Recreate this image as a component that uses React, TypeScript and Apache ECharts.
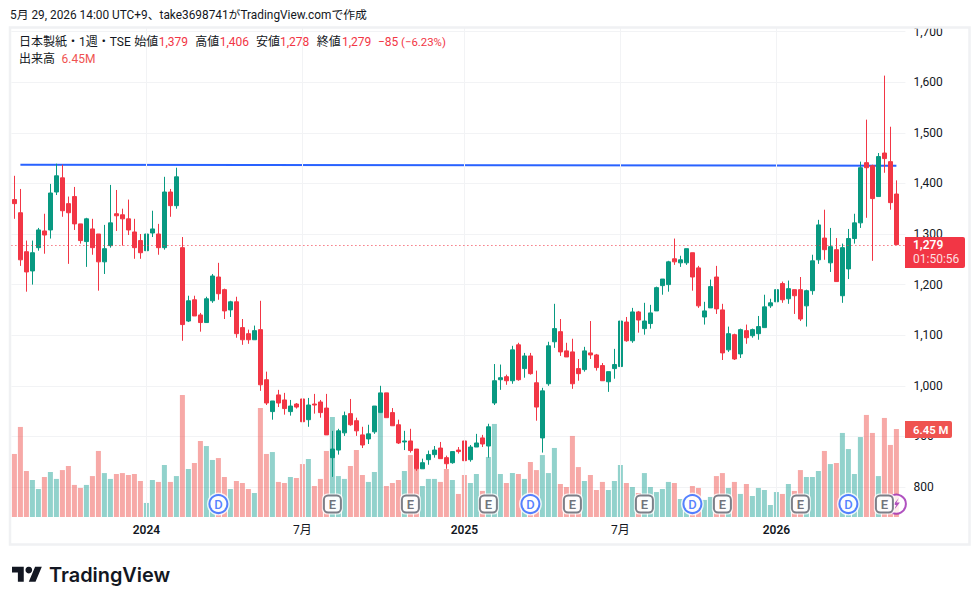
import React, { useEffect, useRef } from "react";
import * as echarts from "echarts";

const UP = "#089981";
const DOWN = "#F23645";
const VOL_DOWN = "#EF5350";
const BLUE = "#2962FF";
const GRID = "#F2F3F5";
const INK = "#131722";
const FONT = "Roboto, 'Noto Sans CJK JP', sans-serif";

const opens = [
  1368, 1342, 1265, 1227, 1273, 1306, 1308, 1383, 1411, 1360, 1374, 1320, 1285, 1310, 1300, 1245, 1277, 1340, 1338, 1330,
  1304, 1287, 1267, 1302, 1300, 1273, 1383, 1356, 1273, 1128, 1170, 1140, 1125, 1168, 1215, 1190, 1150, 1166, 1115, 1103,
  1091, 1111, 1012, 949, 982, 972, 949, 964, 974, 933, 964, 968, 956, 858, 873, 907, 945, 931, 903, 895,
  909, 947, 986, 947, 923, 889, 891, 875, 836, 854, 864, 877, 858, 848, 873, 891, 854, 879, 897, 881,
  966, 1012, 1018, 1010, 1081, 1034, 1059, 1006, 897, 1004, 1087, 1107, 1069, 1067, 1034, 1032, 1065, 1061, 1040, 1008,
  1034, 1038, 1126, 1089, 1146, 1113, 1123, 1148, 1198, 1200, 1251, 1243, 1243, 1263, 1233, 1136, 1154, 1215, 1150, 1071,
  1101, 1063, 1109, 1099, 1103, 1115, 1158, 1166, 1202, 1172, 1190, 1190, 1158, 1188, 1249, 1292, 1243, 1269, 1178, 1231,
  1291, 1322, 1441, 1435, 1374, 1460, 1443, 1379,
];
const closes = [
  1360, 1249, 1225, 1263, 1308, 1298, 1381, 1415, 1346, 1342, 1320, 1287, 1330, 1273, 1245, 1271, 1322, 1336, 1330, 1308,
  1273, 1263, 1300, 1310, 1273, 1383, 1356, 1413, 1121, 1168, 1138, 1125, 1172, 1217, 1182, 1148, 1166, 1103, 1091, 1091,
  1109, 1002, 966, 970, 966, 955, 960, 958, 929, 962, 962, 947, 903, 875, 911, 941, 923, 911, 883, 905,
  960, 986, 937, 921, 887, 891, 872, 836, 848, 864, 873, 856, 846, 870, 870, 852, 879, 887, 885, 919,
  1010, 1016, 1010, 1071, 1012, 1059, 1024, 958, 990, 1079, 1113, 1067, 1057, 1004, 1024, 1069, 1061, 1036, 1010, 1028,
  1042, 1128, 1089, 1146, 1130, 1128, 1144, 1194, 1211, 1245, 1245, 1249, 1271, 1215, 1158, 1148, 1196, 1152, 1065, 1103,
  1053, 1111, 1095, 1111, 1117, 1156, 1164, 1190, 1170, 1192, 1178, 1132, 1188, 1247, 1318, 1269, 1275, 1206, 1273, 1291,
  1322, 1431, 1431, 1370, 1453, 1449, 1362, 1279,
];
const lows = [
  1330, 1237, 1186, 1200, 1267, 1261, 1291, 1377, 1334, 1241, 1308, 1281, 1235, 1259, 1188, 1221, 1273, 1306, 1277, 1298,
  1251, 1251, 1253, 1294, 1259, 1269, 1334, 1350, 1089, 1126, 1138, 1107, 1125, 1164, 1170, 1132, 1136, 1095, 1081, 1083,
  1091, 990, 962, 933, 958, 943, 941, 955, 927, 919, 945, 937, 903, 820, 864, 901, 921, 901, 877, 885,
  905, 947, 937, 921, 885, 873, 868, 832, 836, 844, 858, 856, 836, 846, 866, 850, 850, 879, 879, 858,
  962, 992, 1002, 1004, 1010, 1016, 1022, 931, 868, 1000, 1075, 1059, 1057, 994, 1010, 1028, 1053, 1030, 1010, 988,
  1014, 1038, 1087, 1085, 1105, 1101, 1113, 1148, 1180, 1186, 1239, 1235, 1239, 1188, 1154, 1121, 1154, 1142, 1051, 1067,
  1051, 1055, 1083, 1095, 1091, 1115, 1154, 1166, 1164, 1162, 1142, 1128, 1117, 1180, 1241, 1249, 1225, 1206, 1164, 1211,
  1281, 1312, 1332, 1247, 1374, 1421, 1348, 1278,
];
const highs = [
  1415, 1389, 1287, 1287, 1312, 1340, 1399, 1439, 1437, 1374, 1393, 1320, 1332, 1330, 1300, 1318, 1397, 1387, 1350, 1368,
  1330, 1300, 1304, 1346, 1320, 1413, 1389, 1431, 1294, 1178, 1178, 1144, 1176, 1221, 1243, 1192, 1168, 1176, 1132, 1111,
  1119, 1168, 1028, 970, 992, 986, 972, 966, 976, 976, 984, 972, 984, 911, 915, 949, 974, 937, 919, 923,
  960, 1000, 986, 956, 933, 911, 915, 875, 856, 872, 881, 889, 862, 870, 879, 897, 883, 905, 903, 925,
  1043, 1042, 1022, 1079, 1085, 1065, 1065, 1030, 996, 1087, 1162, 1132, 1085, 1093, 1053, 1077, 1128, 1063, 1045, 1028,
  1073, 1144, 1136, 1154, 1148, 1164, 1160, 1196, 1211, 1247, 1291, 1257, 1271, 1263, 1237, 1166, 1210, 1237, 1162, 1117,
  1103, 1113, 1121, 1113, 1138, 1180, 1172, 1206, 1206, 1208, 1190, 1215, 1190, 1259, 1328, 1348, 1312, 1292, 1281, 1310,
  1340, 1443, 1526, 1437, 1460, 1613, 1512, 1406,
];
const volumesM = [
  4.62, 6.6, 3.37, 2.71, 2.05, 2.93, 3.3, 2.79, 3.44, 3.74, 2.35, 2.13, 2.35, 3.0, 4.84, 3.22, 2.79, 3.15, 3.22, 3.08,
  3.15, 2.64, 1.03, 2.71, 2.57, 3.81, 2.57, 3.0, 8.94, 3.52, 3.96, 5.57, 5.2, 4.18, 4.32, 2.93, 2.05, 2.64, 2.49, 2.05,
  1.76, 7.99, 4.62, 4.76, 2.57, 2.49, 2.93, 2.86, 3.88, 4.25, 2.27, 2.79, 4.84, 7.33, 3.0, 2.79, 3.74, 4.91, 3.08, 2.57,
  3.3, 7.62, 2.27, 2.49, 2.71, 3.37, 4.54, 3.52, 2.27, 2.79, 2.79, 2.57, 3.52, 2.71, 1.69, 3.08, 2.49, 3.15, 1.91, 4.4,
  6.82, 3.15, 2.49, 3.22, 3.15, 2.79, 4.03, 3.44, 4.54, 3.22, 5.06, 2.42, 2.2, 5.94, 3.66, 2.64, 3.08, 1.98, 2.57, 1.98,
  2.64, 3.81, 2.49, 2.2, 1.76, 3.22, 2.2, 1.83, 2.05, 2.57, 2.49, 1.32, 1.32, 2.27, 2.13, 1.25, 1.47, 3.0, 3.22, 2.13,
  2.57, 1.69, 2.42, 1.54, 2.13, 1.98, 0.88, 1.83, 1.69, 2.42, 1.91, 3.44, 2.93, 2.93, 3.37, 4.84, 3.88, 3.96, 6.16, 4.98,
  3.15, 5.86, 7.48, 6.16, 3.0, 7.26, 5.28, 6.45,
];

const priceTicks = [800, 900, 1000, 1100, 1200, 1300, 1400, 1500, 1600, 1700];
const timeTickIndex = [22, 48, 75, 101, 127];
const timeTickLabels = ["2024", "7月", "2025", "7月", "2026"];
const dividendEvents = [34, 86, 113, 139];
const earningsEvents = [53, 66, 79, 93, 105, 118, 131, 145];
const splitEvents = [147];
const EVENT_LEVEL = 0.95;
const trendLine = [
  { index: 1, price: 1437 },
  { index: 147, price: 1435 },
];
const dottedLineLevel = 1277.7;

const categories = opens.map((_, i) => String(i)).concat([""]);

const headerPieces: [string, number, string, number][] = [
  ["日本製紙・1週・TSE", 19, INK, 12],
  ["始値", 134.3, INK, 12],
  ["1,379", 158.7, DOWN, 12],
  ["高値", 195.3, INK, 12],
  ["1,406", 219.7, DOWN, 12],
  ["安値", 256, INK, 12],
  ["1,278", 280, DOWN, 12],
  ["終値", 316.7, INK, 12],
  ["1,279", 342, DOWN, 12],
  ["−85", 378, DOWN, 12],
  ["(−6.23%)", 401, DOWN, 11.4],
];

echarts.graphic.registerShape(
  "tvLogo",
  echarts.graphic.extendPath(
    "M14 22H7V11H0V4h14v18ZM28 22h-8l7.5-18h8L28 22Z",
    {}
  )
);

const LIGHTNING = "path://M14 0 L2 14 L9 14 L4 24 L16 9 L9 9 Z";

function buildOption() {
  const txt = (text: string, x: number, y: number, fill: string, extra: any = {}) => ({
    type: "text",
    x,
    y,
    z: 100,
    silent: true,
    style: { text, x: 0, y: 0, fill, font: `12px ${FONT}`, verticalAlign: "middle", ...extra },
  });
  const eventSeries = (name: string, z: number, points: number[], rest: any) => ({
    type: "scatter",
    name,
    xAxisIndex: 1,
    yAxisIndex: 1,
    z,
    data: points.map((i) => [i, EVENT_LEVEL]),
    ...rest,
  });
  return {
    animation: false,
    backgroundColor: "#ffffff",
    grid: [
      { left: 11.4, width: 894, top: 31.6, height: 455.4 },
      { left: 11.4, width: 894, top: 28, height: 489 },
    ],
    xAxis: [
      { type: "category", gridIndex: 0, data: categories, show: false, boundaryGap: true },
      {
        type: "category",
        gridIndex: 1,
        data: categories,
        boundaryGap: true,
        axisLine: { show: false },
        axisTick: { show: false },
        splitLine: { show: false },
        axisLabel: {
          show: true,
          interval: (i: number) => timeTickIndex.includes(i),
          hideOverlap: false,
          margin: 7,
          fontFamily: FONT,
          fontSize: 12,
          color: INK,
          formatter: (_: string, i: number) => {
            const k = timeTickIndex.indexOf(i);
            if (k < 0) return "";
            const t = timeTickLabels[k];
            return /月/.test(t) ? t : `{y|${t}}`;
          },
          rich: { y: { fontWeight: 600, fontFamily: FONT, fontSize: 12, color: INK } },
        },
      },
    ],
    yAxis: [
      {
        type: "value",
        gridIndex: 0,
        position: "right",
        min: priceTicks[0],
        max: priceTicks[priceTicks.length - 1],
        interval: 100,
        axisLine: { show: false },
        axisTick: { show: false },
        splitLine: { show: true, lineStyle: { color: GRID, width: 1 } },
        axisLabel: {
          margin: 8,
          color: INK,
          fontFamily: FONT,
          fontSize: 12,
          formatter: (v: number) => v.toLocaleString("en-US"),
        },
      },
      { type: "value", gridIndex: 1, position: "left", min: 0, max: 35.84, show: false },
    ],
    series: [
      {
        type: "bar",
        name: "出来高",
        xAxisIndex: 1,
        yAxisIndex: 1,
        barWidth: 5,
        z: 1,
        data: volumesM.map((v, i) => ({
          value: v,
          itemStyle: {
            color: closes[i] < opens[i] ? "rgba(239,83,80,0.5)" : "rgba(38,166,154,0.5)",
          },
        })),
        markLine: {
          silent: true,
          symbol: "none",
          label: { show: false },
          lineStyle: { color: GRID, type: "solid", width: 1 },
          data: timeTickIndex.map((i) => ({ xAxis: i })),
        },
      },
      {
        type: "line",
        name: "trend",
        xAxisIndex: 0,
        yAxisIndex: 0,
        showSymbol: false,
        symbol: "none",
        z: 2,
        lineStyle: { color: BLUE, width: 2 },
        data: categories.map((_, i) => {
          const p = trendLine.find((t) => t.index === i);
          return p ? p.price : null;
        }),
        connectNulls: true,
        markLine: {
          silent: true,
          symbol: "none",
          label: { show: false },
          lineStyle: { color: DOWN, type: [1, 3], dashOffset: 0.4, width: 1 },
          data: [{ yAxis: dottedLineLevel }],
        },
      },
      {
        type: "candlestick",
        name: "日本製紙",
        xAxisIndex: 0,
        yAxisIndex: 0,
        barWidth: 4,
        z: 3,
        itemStyle: { color: UP, color0: DOWN, borderColor: UP, borderColor0: DOWN, borderWidth: 1 },
        data: opens.map((o, i) => [o, closes[i], lows[i], highs[i]]),
      },
      eventSeries("splitRing", 4, splitEvents, {
        symbol: "circle",
        symbolSize: 19,
        itemStyle: { color: "#ffffff", borderColor: "#9C27B0", borderWidth: 2 },
      }),
      eventSeries("splitIcon", 5, splitEvents, {
        symbol: LIGHTNING,
        symbolSize: [7, 12],
        itemStyle: { color: "#9C27B0" },
      }),
      eventSeries("dividendHalo", 6, dividendEvents, {
        symbol: "circle",
        symbolSize: 23,
        itemStyle: { color: "#ffffff" },
      }),
      eventSeries("配当", 7, dividendEvents, {
        symbol: "circle",
        symbolSize: 18,
        itemStyle: { color: "#ffffff", borderColor: BLUE, borderWidth: 2 },
        label: {
          show: true,
          position: "inside",
          formatter: "D",
          color: BLUE,
          fontFamily: FONT,
          fontSize: 13,
          fontWeight: 500,
        },
      }),
      eventSeries("earningsHalo", 8, earningsEvents, {
        symbol: "roundRect",
        symbolSize: 21,
        itemStyle: { color: "#ffffff" },
      }),
      eventSeries("決算", 9, earningsEvents, {
        symbol: "roundRect",
        symbolSize: 17,
        itemStyle: { color: "#ffffff", borderColor: "#5D606B", borderWidth: 2 },
        label: {
          show: true,
          position: "inside",
          formatter: "E",
          color: "#4A4E59",
          fontFamily: FONT,
          fontSize: 13,
          fontWeight: 600,
        },
      }),
    ],
    graphic: {
      elements: [
        {
          type: "rect",
          z: 90,
          silent: true,
          shape: { x: 10, y: 27.5, width: 959.5, height: 517 },
          style: { fill: "none", stroke: "#F0F1F3", lineWidth: 2.5 },
        },
        txt("5月 29, 2026 14:00 UTC+9、take3698741がTradingView.comで作成", 10, 15, INK, {
          font: `11.85px ${FONT}`,
        }),
        ...headerPieces.map(([t, x, c, s]) => txt(t, x, 41.5, c, { font: `${s}px ${FONT}` })),
        txt("出来高", 19, 59, INK),
        txt("6.45M", 61.5, 59, VOL_DOWN),
        {
          type: "rect",
          z: 95,
          silent: true,
          shape: { x: 905, y: 237, width: 60, height: 31, r: [0, 2, 2, 0] },
          style: { fill: DOWN },
        },
        txt("1,279", 913, 245, "#ffffff", { font: `600 12px ${FONT}` }),
        txt("01:50:56", 913, 259, "#FFFFFF", { font: `12px ${FONT}`, opacity: 0.85 }),
        {
          type: "rect",
          z: 95,
          silent: true,
          shape: { x: 905, y: 421, width: 47, height: 17, r: [0, 2, 2, 0] },
          style: { fill: VOL_DOWN },
        },
        txt("6.45 M", 913, 430, "#ffffff", { font: `600 11.4px ${FONT}` }),
        {
          type: "tvLogo",
          x: 12,
          y: 563.3,
          scaleX: 0.84,
          scaleY: 0.84,
          silent: true,
          style: { fill: "#131722" },
        },
        {
          type: "circle",
          silent: true,
          shape: { cx: 12 + 20 * 0.84, cy: 563.3 + 8 * 0.84, r: 4 * 0.84 },
          style: { fill: "#131722" },
        },
        txt("TradingView", 49, 575, "#131722", { font: `600 19.9px Inter, ${FONT}` }),
      ],
    },
  };
}

export default function App() {
  const ref = useRef<HTMLDivElement>(null);
  useEffect(() => {
    document.body.style.margin = "0";
    const chart = echarts.init(ref.current!, undefined, { renderer: "svg" });
    chart.setOption(buildOption() as any);
    return () => chart.dispose();
  }, []);
  return <div ref={ref} style={{ width: 980, height: 605 }} />;
}
